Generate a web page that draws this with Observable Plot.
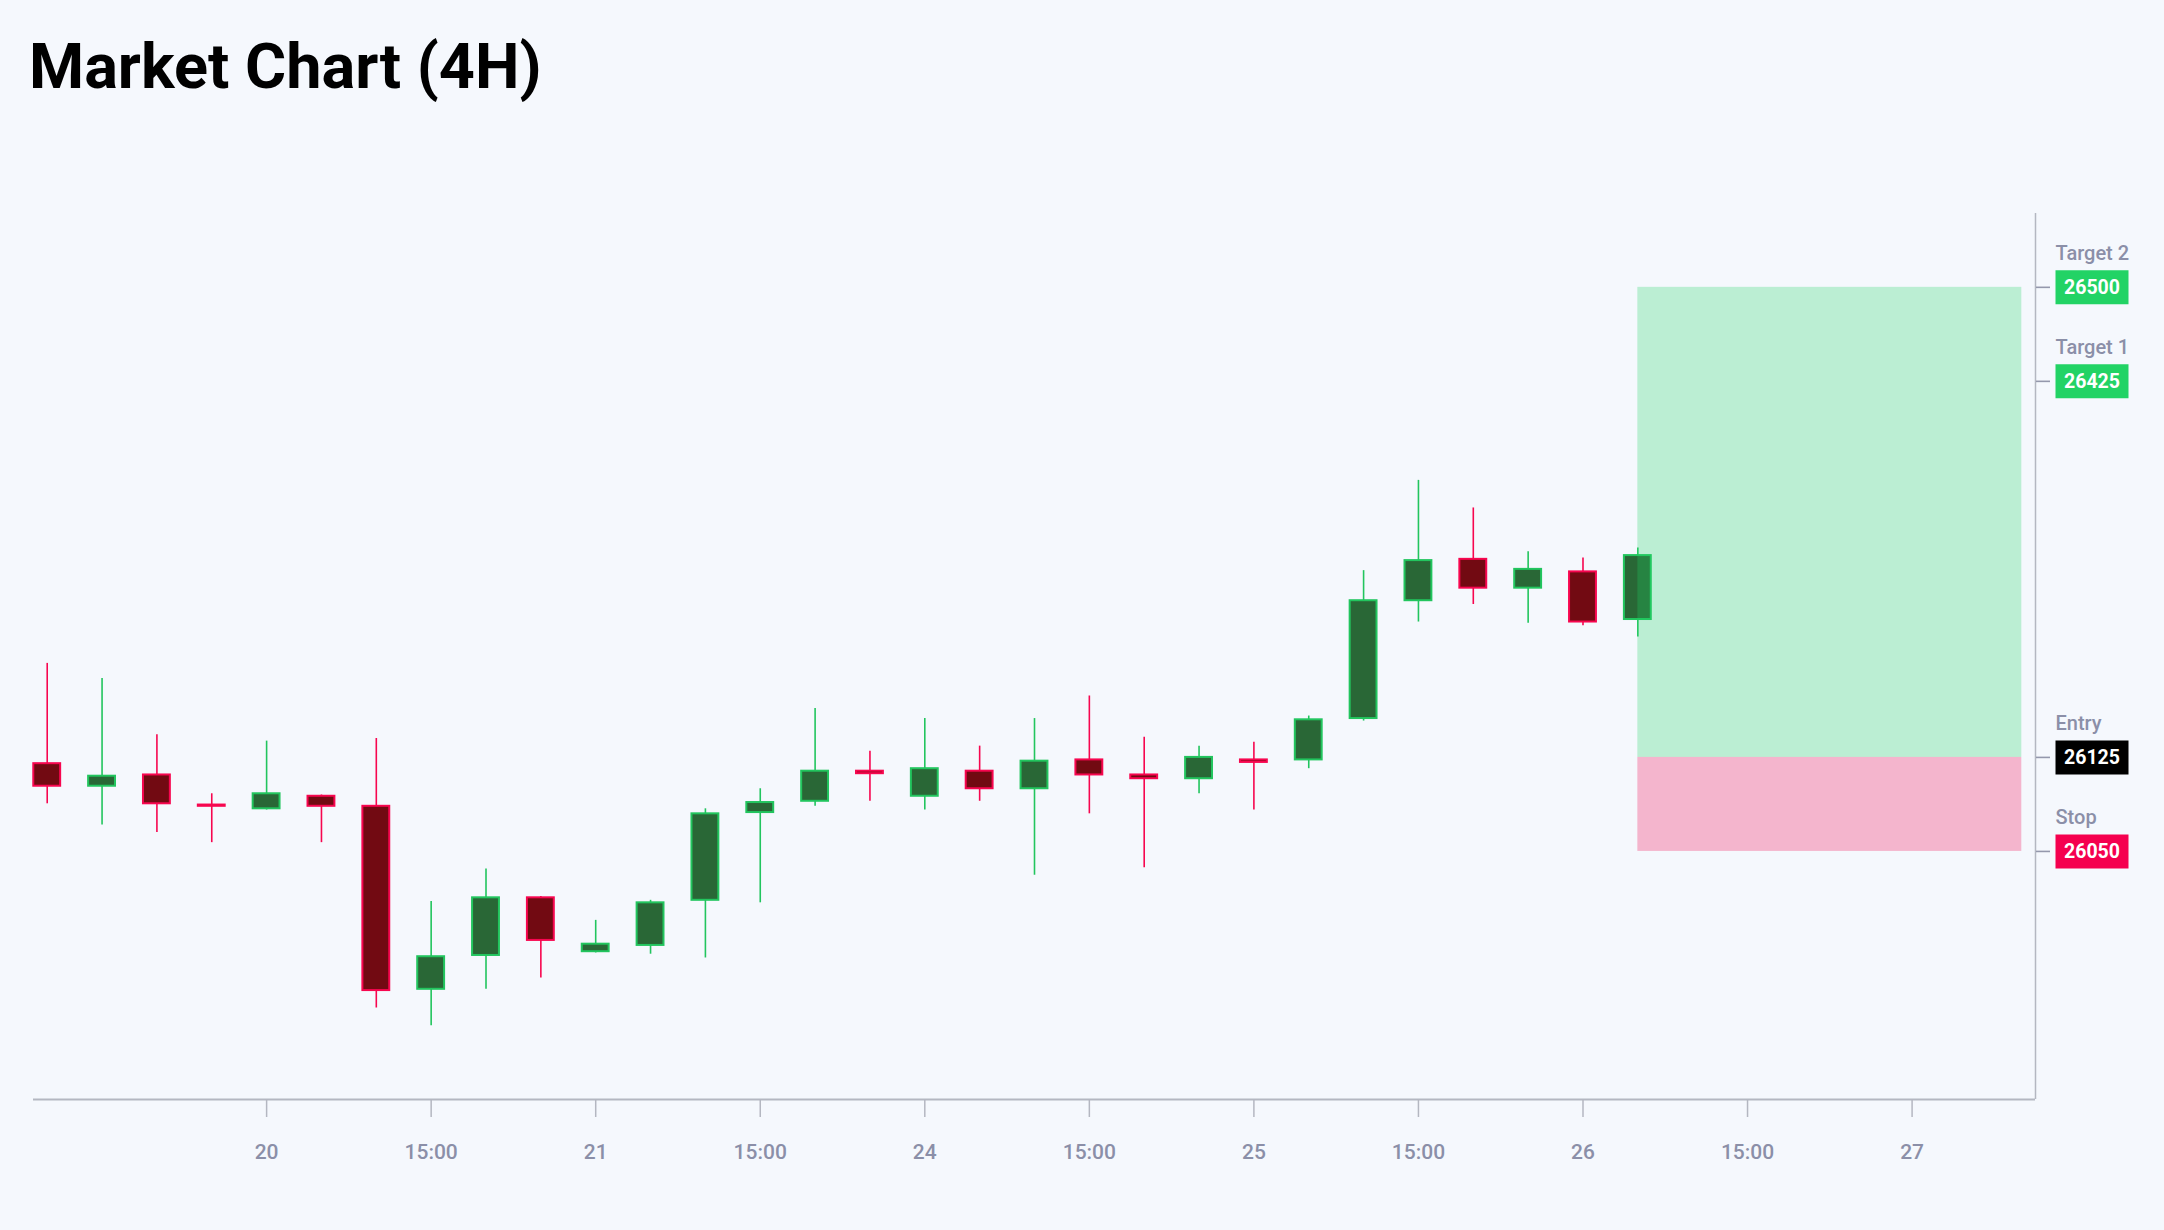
<!DOCTYPE html>
<html>
<head>
<meta charset="utf-8">
<script src="https://cdn.jsdelivr.net/npm/d3@7"></script>
<script src="https://cdn.jsdelivr.net/npm/@observablehq/plot@0.6"></script>
<style>
html, body { margin: 0; padding: 0; background: #f5f8fd; }
body { width: 2164px; height: 1230px; overflow: hidden; font-family: Roboto, sans-serif; }
#title { margin: 0; padding: 35px 0 0 29px; height: 105px; font: 700 63px/64px Roboto, sans-serif; color: #000; }
#chart svg { display: block; }
</style>
</head>
<body>
<h1 id="title">Market Chart (4H)</h1>
<div id="chart"></div>
<script>
// ---- data (4H candles, index = candle number) ----
const opens  = [26120,26102,26111,26087,26084,26094,26086,25940,25967,26013,25970,25975,26011,26081,26090,26114,26094,26114,26100,26123,26111,26108,26123,26123,26156,26250,26283,26260,26273,26235];
const highs  = [26200,26188,26143,26096,26138,26095,26140,26010,26036,26014,25995,26011,26084,26100,26164,26130,26156,26134,26156,26174,26141,26134,26137,26158,26274,26346,26324,26289,26284,26292];
const lows   = [26088,26071,26065,26057,26083,26057,25925,25911,25940,25949,25969,25968,25965,26009,26086,26090,26083,26090,26031,26080,26037,26096,26083,26116,26154,26233,26247,26232,26230,26221];
const closes = [26102,26110,26088,26086,26096,26086,25939,25966,26013,25979,25976,26009,26080,26089,26114,26112,26116,26100,26122,26111,26108,26125,26121,26155,26250,26282,26260,26275,26233,26286];

// x tick positions (candle index) and their labels
const tickIndex  = [4, 7, 10, 13, 16, 19, 22, 25, 28, 31, 34];
const tickLabels = ["20", "15:00", "21", "15:00", "24", "15:00", "25", "15:00", "26", "15:00", "27"];

// trade levels
const levelNames  = ["Target 2", "Target 1", "Entry", "Stop"];
const levelValues = [26500, 26425, 26125, 26050];
const levelKinds  = ["target", "target", "entry", "stop"];

// risk / reward zone: from the last candle for 7 candles
const zoneFrom = 29;
const zoneTo = 36;

// ---- build ----
const candles = opens.map((o, i) => ({
  i, open: o, high: highs[i], low: lows[i], close: closes[i], up: closes[i] >= o
}));
const levels = levelNames.map((name, k) => ({name, value: levelValues[k], kind: levelKinds[k]}));
const zones = [
  {from: zoneFrom, to: zoneTo, lo: levelValues[2], hi: levelValues[0], kind: "profit"},
  {from: zoneFrom, to: zoneTo, lo: levelValues[3], hi: levelValues[2], kind: "loss"}
];

const UP_FILL = "#296736", UP_LINE = "#22c55e";
const DN_FILL = "#720a12", DN_LINE = "#f7064f";
const levelColor = {target: "#22d365", entry: "#000000", stop: "#f5004f"};
const zoneColor = {profit: "#22d365", loss: "#f5004f"};
const AXIS = "#b4b7c1", MUTED = "#8b8fa8";

const lo = Math.min(d3.min(lows), d3.min(levelValues));
const hi = Math.max(d3.max(highs), d3.max(levelValues));
const pad = (hi - lo) * 0.1;
const yDomain = [lo - pad, hi + pad];
const xDomain = [-0.25, zoneTo + 0.25];

const boxSymbol = { draw(ctx) { ctx.rect(-36.5, -17, 73, 34); } };

const chart = Plot.plot({
  width: 2164,
  height: 1090,
  marginTop: 73,
  marginBottom: 131,
  marginLeft: 33,
  marginRight: 129,
  style: {background: "transparent", fontFamily: "Roboto, sans-serif", overflow: "visible"},
  x: {type: "linear", domain: xDomain},
  y: {type: "linear", domain: yDomain},
  color: {type: "identity"},
  marks: [
    // wicks
    Plot.ruleX(candles, {x: "i", y1: "low", y2: "high", stroke: d => d.up ? UP_LINE : DN_LINE, strokeWidth: 1.6}),
    // bodies
    Plot.rect(candles, {
      x1: d => d.i - 0.245, x2: d => d.i + 0.245, y1: "open", y2: "close",
      fill: d => d.up ? UP_FILL : DN_FILL, stroke: d => d.up ? UP_LINE : DN_LINE, strokeWidth: 2
    }),
    // zones
    Plot.rect(zones, {x1: "from", x2: "to", y1: "lo", y2: "hi", fill: d => zoneColor[d.kind], fillOpacity: 0.27}),
    // axis lines
    Plot.ruleY([yDomain[0]], {stroke: AXIS, strokeWidth: 2}),
    Plot.ruleX([xDomain[1]], {stroke: AXIS, strokeWidth: 1.5}),
    // x axis
    Plot.axisX({
      ticks: tickIndex,
      tickFormat: i => tickLabels[tickIndex.indexOf(i)],
      tickSize: 18, tickPadding: 27,
      stroke: AXIS, strokeWidth: 1.5,
      fill: MUTED, fontSize: 21, fontWeight: 500,
      label: null
    }),
    // y axis ticks at the trade levels
    Plot.axisY({
      anchor: "right", ticks: levelValues, tickSize: 14,
      stroke: "#9498ac", strokeWidth: 1.6, fill: "none", label: null
    }),
    // level names
    Plot.text(levels, {
      y: "value", text: "name", frameAnchor: "right", dx: 20, dy: -27.5,
      textAnchor: "start", lineAnchor: "bottom", fill: MUTED, fontSize: 20, fontWeight: 500
    }),
    // value boxes
    Plot.dot(levels, {y: "value", frameAnchor: "right", dx: 56.5, symbol: boxSymbol, fill: d => levelColor[d.kind], stroke: "none"}),
    Plot.text(levels, {
      y: "value", text: d => String(d.value), frameAnchor: "right", dx: 56.5,
      textAnchor: "middle", lineAnchor: "middle",
      fill: "#ffffff", fontSize: 19.5, fontWeight: 700
    })
  ]
});
document.getElementById("chart").appendChild(chart);
</script>
</body>
</html>
